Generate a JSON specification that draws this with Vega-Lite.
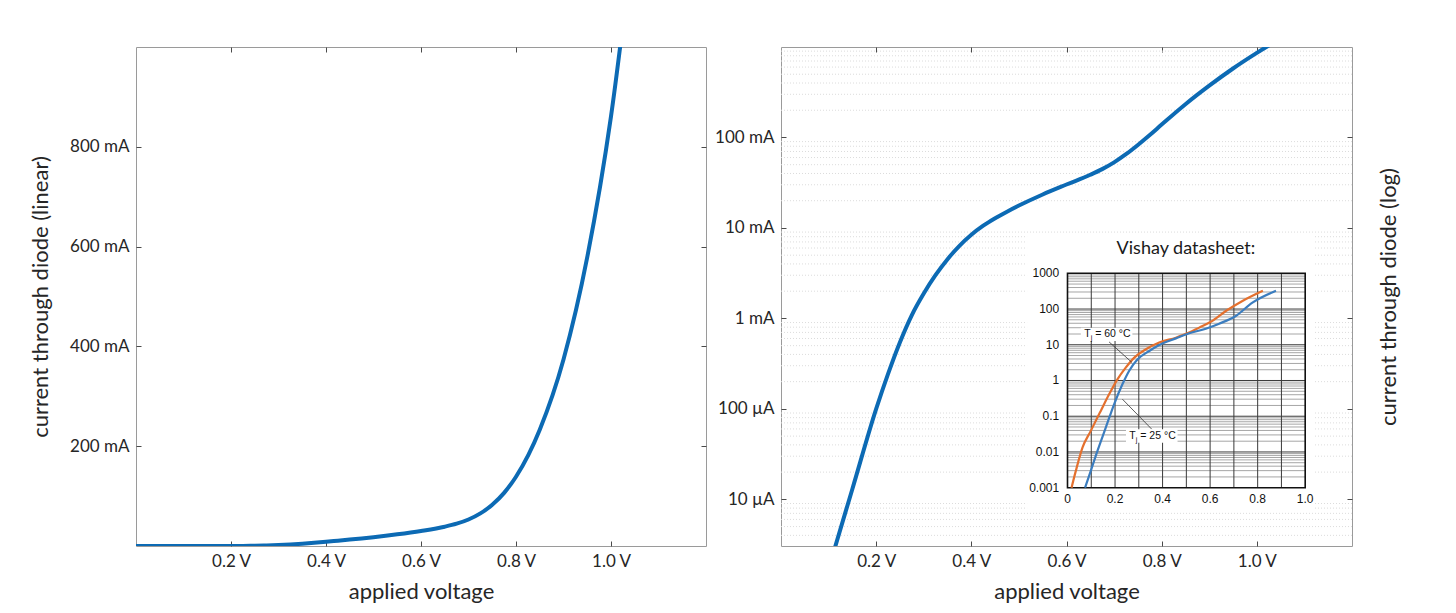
{
  "$schema": "https://vega.github.io/schema/vega-lite/v6.json",
  "description": "Diode I-V curve, linear and log current axes, with Vishay datasheet inset.",
  "background": "white",
  "padding": {"left": 28, "top": 46, "right": 5, "bottom": 5},
  "spacing": 7,
  "datasets": {
    "diode": [
      {"v": 0.0, "i": 0.0000316},
      {"v": 0.05, "i": 0.000224},
      {"v": 0.1, "i": 0.0017},
      {"v": 0.15, "i": 0.01303},
      {"v": 0.2, "i": 0.1},
      {"v": 0.225, "i": 0.2441},
      {"v": 0.25, "i": 0.5464},
      {"v": 0.275, "i": 1.09},
      {"v": 0.3, "i": 1.884},
      {"v": 0.325, "i": 3.02},
      {"v": 0.35, "i": 4.519},
      {"v": 0.375, "i": 6.346},
      {"v": 0.4, "i": 8.414},
      {"v": 0.425, "i": 10.59},
      {"v": 0.45, "i": 12.81},
      {"v": 0.475, "i": 15.14},
      {"v": 0.5, "i": 17.68},
      {"v": 0.55, "i": 23.44},
      {"v": 0.6, "i": 30.2},
      {"v": 0.65, "i": 38.68},
      {"v": 0.675, "i": 44.67},
      {"v": 0.7, "i": 53.09},
      {"v": 0.725, "i": 65.31},
      {"v": 0.75, "i": 82.7},
      {"v": 0.775, "i": 106.5},
      {"v": 0.8, "i": 138.8},
      {"v": 0.85, "i": 233.1},
      {"v": 0.9, "i": 373.8},
      {"v": 0.95, "i": 578.8},
      {"v": 1.0, "i": 861.0},
      {"v": 1.05, "i": 1245}
    ],
    "minorGrid": [
      {"g": 0.004}, {"g": 0.005}, {"g": 0.006}, {"g": 0.007}, {"g": 0.008}, {"g": 0.009},
      {"g": 0.02}, {"g": 0.03}, {"g": 0.04}, {"g": 0.05}, {"g": 0.06}, {"g": 0.07}, {"g": 0.08}, {"g": 0.09},
      {"g": 0.2}, {"g": 0.3}, {"g": 0.4}, {"g": 0.5}, {"g": 0.6}, {"g": 0.7}, {"g": 0.8}, {"g": 0.9},
      {"g": 2}, {"g": 3}, {"g": 4}, {"g": 5}, {"g": 6}, {"g": 7}, {"g": 8}, {"g": 9},
      {"g": 20}, {"g": 30}, {"g": 40}, {"g": 50}, {"g": 60}, {"g": 70}, {"g": 80}, {"g": 90},
      {"g": 200}, {"g": 300}, {"g": 400}, {"g": 500}, {"g": 600}, {"g": 700}, {"g": 800}, {"g": 900}
    ],
    "insetMinorGrid": [
      {"g": 0.002}, {"g": 0.003}, {"g": 0.004}, {"g": 0.005}, {"g": 0.006}, {"g": 0.007}, {"g": 0.008}, {"g": 0.009},
      {"g": 0.02}, {"g": 0.03}, {"g": 0.04}, {"g": 0.05}, {"g": 0.06}, {"g": 0.07}, {"g": 0.08}, {"g": 0.09},
      {"g": 0.2}, {"g": 0.3}, {"g": 0.4}, {"g": 0.5}, {"g": 0.6}, {"g": 0.7}, {"g": 0.8}, {"g": 0.9},
      {"g": 2}, {"g": 3}, {"g": 4}, {"g": 5}, {"g": 6}, {"g": 7}, {"g": 8}, {"g": 9},
      {"g": 20}, {"g": 30}, {"g": 40}, {"g": 50}, {"g": 60}, {"g": 70}, {"g": 80}, {"g": 90},
      {"g": 200}, {"g": 300}, {"g": 400}, {"g": 500}, {"g": 600}, {"g": 700}, {"g": 800}, {"g": 900}
    ],
    "insetMajorGrid": [
      {"g": 0.01}, {"g": 0.1}, {"g": 1}, {"g": 10}, {"g": 100}
    ],
    "insetVGrid": [
      {"g": 0.1}, {"g": 0.2}, {"g": 0.3}, {"g": 0.4}, {"g": 0.5}, {"g": 0.6}, {"g": 0.7}, {"g": 0.8}, {"g": 0.9}
    ],
    "insetCurves": [
      {"t": "60 °C", "vx": 0.017, "iy": 0.001},
      {"t": "60 °C", "vx": 0.035, "iy": 0.00295},
      {"t": "60 °C", "vx": 0.063, "iy": 0.0132},
      {"t": "60 °C", "vx": 0.098, "iy": 0.0389},
      {"t": "60 °C", "vx": 0.14, "iy": 0.141},
      {"t": "60 °C", "vx": 0.175, "iy": 0.411},
      {"t": "60 °C", "vx": 0.21, "iy": 1.08},
      {"t": "60 °C", "vx": 0.245, "iy": 2.29},
      {"t": "60 °C", "vx": 0.281, "iy": 4.37},
      {"t": "60 °C", "vx": 0.33, "iy": 7.46},
      {"t": "60 °C", "vx": 0.386, "iy": 11.5},
      {"t": "60 °C", "vx": 0.456, "iy": 15.8},
      {"t": "60 °C", "vx": 0.512, "iy": 21.9},
      {"t": "60 °C", "vx": 0.554, "iy": 30.2},
      {"t": "60 °C", "vx": 0.603, "iy": 44},
      {"t": "60 °C", "vx": 0.666, "iy": 88},
      {"t": "60 °C", "vx": 0.736, "iy": 168},
      {"t": "60 °C", "vx": 0.822, "iy": 324},
      {"t": "25 °C", "vx": 0.074, "iy": 0.001},
      {"t": "25 °C", "vx": 0.098, "iy": 0.00295},
      {"t": "25 °C", "vx": 0.126, "iy": 0.0107},
      {"t": "25 °C", "vx": 0.161, "iy": 0.0479},
      {"t": "25 °C", "vx": 0.196, "iy": 0.216},
      {"t": "25 °C", "vx": 0.231, "iy": 0.783},
      {"t": "25 °C", "vx": 0.259, "iy": 1.85},
      {"t": "25 °C", "vx": 0.295, "iy": 3.92},
      {"t": "25 °C", "vx": 0.344, "iy": 6.7},
      {"t": "25 °C", "vx": 0.386, "iy": 9.86},
      {"t": "25 °C", "vx": 0.456, "iy": 15.1},
      {"t": "25 °C", "vx": 0.512, "iy": 20.9},
      {"t": "25 °C", "vx": 0.582, "iy": 28.2},
      {"t": "25 °C", "vx": 0.638, "iy": 38.9},
      {"t": "25 °C", "vx": 0.708, "iy": 64},
      {"t": "25 °C", "vx": 0.778, "iy": 151},
      {"t": "25 °C", "vx": 0.877, "iy": 324}
    ],
    "insetYTicks": [
      {"vx": -0.035, "iy": 1000, "txt": "1000"},
      {"vx": -0.035, "iy": 100, "txt": "100"},
      {"vx": -0.035, "iy": 10, "txt": "10"},
      {"vx": -0.035, "iy": 1, "txt": "1"},
      {"vx": -0.035, "iy": 0.1, "txt": "0.1"},
      {"vx": -0.035, "iy": 0.01, "txt": "0.01"},
      {"vx": -0.035, "iy": 0.001, "txt": "0.001"}
    ],
    "insetXTicks": [
      {"vx": 0.0, "iy": 0.00047, "txt": "0"},
      {"vx": 0.2, "iy": 0.00047, "txt": "0.2"},
      {"vx": 0.4, "iy": 0.00047, "txt": "0.4"},
      {"vx": 0.6, "iy": 0.00047, "txt": "0.6"},
      {"vx": 0.8, "iy": 0.00047, "txt": "0.8"},
      {"vx": 1.0, "iy": 0.00047, "txt": "1.0"}
    ],
    "insetNotes": [
      {"t1": "T", "t2": "j", "t3": "= 60 °C", "vx": 0.07, "iy": 19.5, "bx1": 0.056, "bx2": 0.273, "by1": 12.7, "by2": 30, "lx1": 0.175, "ly1": 12.0, "lx2": 0.271, "ly2": 3.2},
      {"t1": "T", "t2": "j", "t3": "= 25 °C", "vx": 0.26, "iy": 0.028, "bx1": 0.246, "bx2": 0.463, "by1": 0.018, "by2": 0.043, "lx1": 0.231, "ly1": 0.3, "lx2": 0.355, "ly2": 0.043}
    ]
  },
  "hconcat": [
    {
      "width": 570,
      "height": 499,
      "data": {"name": "diode"},
      "layer": [
        {
          "mark": {"type": "line", "opacity": 0, "clip": true},
          "encoding": {
            "x": {"field": "v", "type": "quantitative", "scale": {"domain": [0, 1.2], "nice": false, "zero": false},
                  "axis": {"orient": "top", "labels": false, "grid": false, "title": null, "values": [0.2, 0.4, 0.6, 0.8, 1.0], "tickSize": -5}},
            "y": {"field": "i", "type": "quantitative", "scale": {"domain": [0, 1000], "nice": false},
                  "axis": {"orient": "right", "labels": false, "grid": false, "title": null, "values": [200, 400, 600, 800], "tickSize": -5}}
          }
        },
        {
          "mark": {"type": "line", "color": "#0c6ab4", "strokeWidth": 4, "clip": true, "interpolate": "monotone"},
          "encoding": {
            "x": {"field": "v", "type": "quantitative", "scale": {"domain": [0, 1.2], "nice": false, "zero": false},
                  "axis": {"orient": "bottom", "values": [0.2, 0.4, 0.6, 0.8, 1.0], "labelExpr": "format(datum.value, '.1f') + ' V'", "title": "applied voltage", "tickSize": -5}},
            "y": {"field": "i", "type": "quantitative", "scale": {"domain": [0, 1000], "nice": false},
                  "axis": {"orient": "left", "values": [200, 400, 600, 800], "labelExpr": "datum.value + ' mA'", "title": "current through diode (linear)", "tickSize": -5}}
          }
        }
      ],
      "resolve": {"axis": {"x": "independent", "y": "independent"}}
    },
    {
      "width": 571,
      "height": 499,
      "layer": [
        {
          "layer": [
            {
              "data": {"name": "diode"},
              "mark": {"type": "line", "opacity": 0, "clip": true},
              "encoding": {
                "x": {"field": "v", "type": "quantitative", "scale": {"domain": [0, 1.2], "nice": false, "zero": false},
                      "axis": {"orient": "top", "labels": false, "grid": false, "title": null, "values": [0.2, 0.4, 0.6, 0.8, 1.0], "tickSize": -5}},
                "y": {"field": "i", "type": "quantitative", "scale": {"type": "log", "domain": [0.00305, 1000], "nice": false},
                      "axis": {"orient": "right", "labels": false, "grid": false, "values": [0.01, 0.1, 1, 10, 100], "tickSize": -5,
                               "title": "current through diode (log)", "titleAngle": 270, "titlePadding": 48}}
              }
            },
            {
              "data": {"name": "minorGrid"},
              "mark": {"type": "rule", "color": "#dcdcdc", "strokeWidth": 1, "strokeDash": [1, 2]},
              "encoding": {
                "y": {"field": "g", "type": "quantitative", "scale": {"type": "log", "domain": [0.00305, 1000], "nice": false}, "axis": null}
              }
            },
            {
              "data": {"name": "diode"},
              "mark": {"type": "line", "color": "#0c6ab4", "strokeWidth": 4, "clip": true, "interpolate": "monotone"},
              "encoding": {
                "x": {"field": "v", "type": "quantitative", "scale": {"domain": [0, 1.2], "nice": false, "zero": false},
                      "axis": {"orient": "bottom", "values": [0.2, 0.4, 0.6, 0.8, 1.0], "labelExpr": "format(datum.value, '.1f') + ' V'", "title": "applied voltage", "tickSize": -5}},
                "y": {"field": "i", "type": "quantitative", "scale": {"type": "log", "domain": [0.00305, 1000], "nice": false},
                      "axis": {"orient": "left", "values": [0.01, 0.1, 1, 10, 100], "tickSize": -5, "title": null,
                               "labelExpr": "datum.value >= 1 ? format(datum.value, '.0f') + ' mA' : format(datum.value * 1000, '.0f') + ' µA'"}}
              }
            }
          ],
          "resolve": {"axis": {"x": "independent", "y": "independent"}}
        },
        {
          "layer": [
            {
              "data": {"values": [{"x1": -0.17, "x2": 1.035, "y1": 0.00022, "y2": 11000}]},
              "mark": {"type": "rect", "color": "white"},
              "encoding": {
                "x": {"field": "x1", "type": "quantitative", "scale": {"domain": [-1.2053, 1.1969], "nice": false, "zero": false}, "axis": null},
                "x2": {"field": "x2"},
                "y": {"field": "y1", "type": "quantitative", "scale": {"type": "log", "domain": [2.333e-5, 2.156e9], "nice": false}, "axis": null},
                "y2": {"field": "y2"}
              }
            },
            {
              "data": {"name": "insetMinorGrid"},
              "mark": {"type": "rule", "color": "#8f8f8f", "strokeWidth": 0.8},
              "encoding": {
                "x": {"datum": 0, "type": "quantitative"},
                "x2": {"datum": 1},
                "y": {"field": "g", "type": "quantitative"}
              }
            },
            {
              "data": {"name": "insetMajorGrid"},
              "mark": {"type": "rule", "color": "#3a3a3a", "strokeWidth": 1},
              "encoding": {
                "x": {"datum": 0, "type": "quantitative"},
                "x2": {"datum": 1},
                "y": {"field": "g", "type": "quantitative"}
              }
            },
            {
              "data": {"name": "insetVGrid"},
              "mark": {"type": "rule", "color": "#3a3a3a", "strokeWidth": 1},
              "encoding": {
                "x": {"field": "g", "type": "quantitative"},
                "y": {"datum": 0.001, "type": "quantitative"},
                "y2": {"datum": 1000}
              }
            },
            {
              "data": {"values": [{"x1": 0, "x2": 1, "y1": 0.001, "y2": 1000}]},
              "mark": {"type": "rect", "fillOpacity": 0, "stroke": "#111", "strokeWidth": 1.6},
              "encoding": {
                "x": {"field": "x1", "type": "quantitative"},
                "x2": {"field": "x2"},
                "y": {"field": "y1", "type": "quantitative"},
                "y2": {"field": "y2"}
              }
            },
            {
              "data": {"name": "insetCurves"},
              "mark": {"type": "line", "strokeWidth": 2.2, "interpolate": "monotone"},
              "encoding": {
                "x": {"field": "vx", "type": "quantitative"},
                "y": {"field": "iy", "type": "quantitative"},
                "color": {"field": "t", "type": "nominal", "scale": {"domain": ["60 °C", "25 °C"], "range": ["#e4702e", "#3b7dbf"]}, "legend": null}
              }
            },
            {
              "data": {"name": "insetNotes"},
              "mark": {"type": "rule", "color": "#333", "strokeWidth": 0.8},
              "encoding": {
                "x": {"field": "lx1", "type": "quantitative"},
                "x2": {"field": "lx2"},
                "y": {"field": "ly1", "type": "quantitative"},
                "y2": {"field": "ly2"}
              }
            },
            {
              "data": {"name": "insetNotes"},
              "mark": {"type": "rect", "color": "white"},
              "encoding": {
                "x": {"field": "bx1", "type": "quantitative"},
                "x2": {"field": "bx2"},
                "y": {"field": "by1", "type": "quantitative"},
                "y2": {"field": "by2"}
              }
            },
            {
              "data": {"name": "insetNotes"},
              "mark": {"type": "text", "font": "Liberation Sans", "fontSize": 10.5, "color": "#111", "align": "left", "baseline": "middle"},
              "encoding": {
                "x": {"field": "vx", "type": "quantitative"},
                "y": {"field": "iy", "type": "quantitative"},
                "text": {"field": "t1"}
              }
            },
            {
              "data": {"name": "insetNotes"},
              "mark": {"type": "text", "font": "Liberation Sans", "fontSize": 7, "color": "#111", "align": "left", "baseline": "middle", "dx": 6.5, "dy": 4},
              "encoding": {
                "x": {"field": "vx", "type": "quantitative"},
                "y": {"field": "iy", "type": "quantitative"},
                "text": {"field": "t2"}
              }
            },
            {
              "data": {"name": "insetNotes"},
              "mark": {"type": "text", "font": "Liberation Sans", "fontSize": 10.5, "color": "#111", "align": "left", "baseline": "middle", "dx": 11},
              "encoding": {
                "x": {"field": "vx", "type": "quantitative"},
                "y": {"field": "iy", "type": "quantitative"},
                "text": {"field": "t3"}
              }
            },
            {
              "data": {"name": "insetYTicks"},
              "mark": {"type": "text", "font": "Liberation Sans", "fontSize": 12, "color": "#111", "align": "right", "baseline": "middle"},
              "encoding": {
                "x": {"field": "vx", "type": "quantitative"},
                "y": {"field": "iy", "type": "quantitative"},
                "text": {"field": "txt"}
              }
            },
            {
              "data": {"name": "insetXTicks"},
              "mark": {"type": "text", "font": "Liberation Sans", "fontSize": 12, "color": "#111", "align": "center", "baseline": "middle"},
              "encoding": {
                "x": {"field": "vx", "type": "quantitative"},
                "y": {"field": "iy", "type": "quantitative"},
                "text": {"field": "txt"}
              }
            },
            {
              "data": {"values": [{"vx": 0.498, "iy": 4700, "txt": "Vishay datasheet:"}]},
              "mark": {"type": "text", "font": "Lato", "fontSize": 18, "color": "#1a1a1a", "align": "center", "baseline": "middle"},
              "encoding": {
                "x": {"field": "vx", "type": "quantitative"},
                "y": {"field": "iy", "type": "quantitative"},
                "text": {"field": "txt"}
              }
            }
          ]
        }
      ],
      "resolve": {"scale": {"x": "independent", "y": "independent"}}
    }
  ],
  "config": {
    "view": {"stroke": "#9a9a9a", "strokeWidth": 1},
    "axis": {
      "domain": false,
      "grid": true,
      "gridColor": "#e3e3e3",
      "gridWidth": 1,
      "tickColor": "#4a4a4a",
      "tickWidth": 1,
      "labelFont": "Lato",
      "labelFontSize": 17,
      "labelColor": "#262626",
      "labelPadding": 12,
      "titleFont": "Lato",
      "titleFontSize": 22,
      "titleFontWeight": "normal",
      "titleColor": "#262626"
    },
    "axisX": {"titlePadding": 12},
    "axisY": {"titlePadding": 17.5}
  }
}
